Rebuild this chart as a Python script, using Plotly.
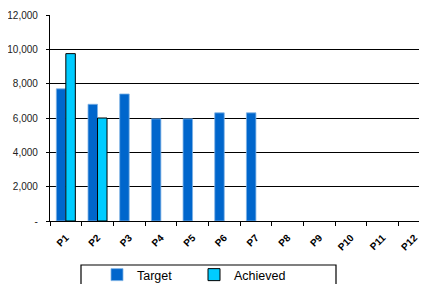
import plotly.graph_objects as go

categories = ["P1", "P2", "P3", "P4", "P5", "P6", "P7", "P8", "P9", "P10", "P11", "P12"]
target = [7700, 6800, 7400, 5950, 5950, 6300, 6300, None, None, None, None, None]
achieved = [9750, 6000, None, None, None, None, None, None, None, None, None, None]
y_tickvals = [0, 2000, 4000, 6000, 8000, 10000, 12000]
y_ticktext = ["-", "2,000", "4,000", "6,000", "8,000", "10,000", "12,000"]

fig = go.Figure()
fig.add_trace(go.Bar(x=categories, y=target, name="Target",
                     marker=dict(color="#0066CC", line=dict(color="#7FB2E5", width=0.8))))
fig.add_trace(go.Bar(x=categories, y=achieved, name="Achieved",
                     marker=dict(color="#00CCFF", line=dict(color="#000000", width=1))))

PW = 377
PH = 206
H = 276
fig.update_layout(
    width=419, height=H,
    margin=dict(l=42, r=0, t=7, b=63),
    paper_bgcolor="white", plot_bgcolor="white",
    barmode="group", bargap=0.4, bargroupgap=0,
    font=dict(family="Liberation Sans, Arial", size=10, color="#000000"),
    showlegend=True,
    legend=dict(orientation="h", xref="container", yref="container",
                x=(97 - 8) / 419, y=(H - 252) / H, xanchor="left", yanchor="top",
                font=dict(size=12.5), bgcolor="rgba(0,0,0,0)", borderwidth=0,
                itemwidth=30, entrywidth=52, tracegroupgap=0),
    shapes=[dict(type="rect", xref="paper", yref="paper",
                 x0=(81 - 50) / PW, x1=(336 - 50) / PW,
                 y0=-0.45, y1=-44 / PH, line=dict(color="black", width=1.2),
                 fillcolor="rgba(0,0,0,0)")],
)
fig.update_xaxes(
    range=[-0.5, 11.4], showline=True, linecolor="black", linewidth=1.2,
    ticks="outside", ticklen=4, tickcolor="black", tickson="boundaries",
    tickangle=-45, tickfont=dict(size=10, family="Liberation Sans, Arial", weight="bold"),
    ticklabelstandoff=6,
    showgrid=False, automargin=False,
)
fig.update_yaxes(
    range=[0, 12000], tickvals=y_tickvals, ticktext=y_ticktext,
    showline=True, linecolor="black", linewidth=1.2,
    ticks="outside", ticklen=3, tickcolor="black",
    showgrid=True, gridcolor="black", gridwidth=1, zeroline=False,
    ticklabelstandoff=6, tickfont=dict(size=10, color="#222222"),
    automargin=False,
)
fig.write_html("out.html")
